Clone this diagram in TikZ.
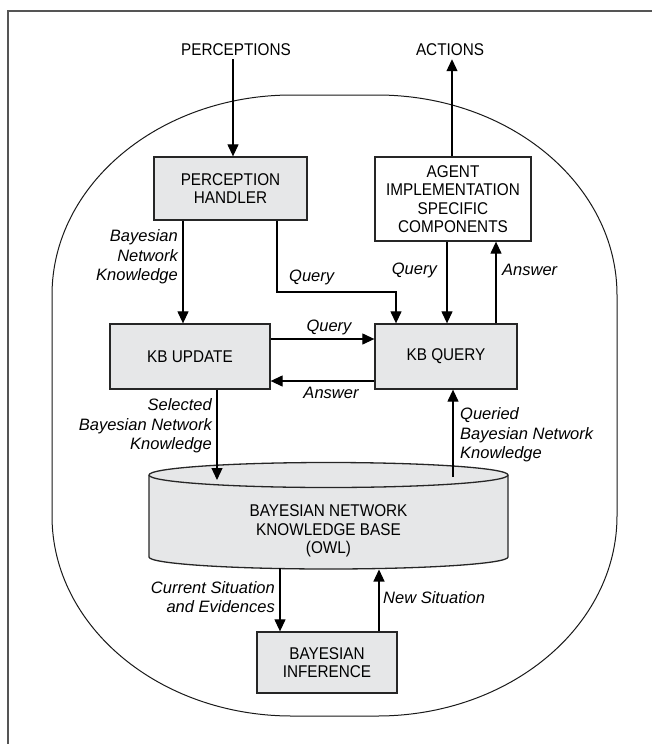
\documentclass[tikz,border=0pt]{standalone}
\usepackage{fontspec}
\setmainfont{Liberation Sans}
\newfontfamily\boxfont[FakeStretch=0.9]{Liberation Sans}
\usetikzlibrary{arrows.meta}
\definecolor{boxgray}{RGB}{230,231,232}
\definecolor{framegray}{RGB}{85,85,85}

\begin{document}
\begin{tikzpicture}[x=1pt,y=-1pt,
  box/.style={draw=black!85, line width=1.3pt, fill=boxgray, align=center,
    inner sep=0pt, font=\boxfont\fontsize{17}{18.5}\selectfont},
  title/.style={inner sep=3pt, align=center, font=\boxfont\fontsize{17}{18.5}\selectfont},
  lbl/.style={inner sep=0pt, font=\itshape\fontsize{16.5}{19.5}\selectfont},
  arr/.style={line width=1.2pt, -{Triangle[width=11pt,length=12pt]}},
  container/.style={line width=1pt, draw=black!90},
  cyl/.style={line width=1.3pt, draw=black!85}]

\useasboundingbox (0,0) rectangle (652,744);

% page frame (top and left rules)
\draw[framegray, line width=2pt] (652,11) -- (7.5,11) -- (7.5,744);

% agent boundary
\draw[container] (292,95) -- (377,95)
  arc[start angle=-90, end angle=0, x radius=240, y radius=200]
  -- (617,516)
  arc[start angle=0, end angle=90, x radius=240, y radius=200]
  -- (292,716)
  arc[start angle=90, end angle=180, x radius=240, y radius=200]
  -- (52,295)
  arc[start angle=180, end angle=270, x radius=240, y radius=200]
  -- cycle;

% knowledge base cylinder
\fill[boxgray] (149,475) -- (149,557)
  arc[start angle=180, end angle=0, x radius=179.5, y radius=12]
  -- (508,475)
  arc[start angle=0, end angle=-180, x radius=179.5, y radius=12.5] -- cycle;
\draw[cyl] (149,475) -- (149,557)
  arc[start angle=180, end angle=0, x radius=179.5, y radius=12]
  -- (508,475)
  arc[start angle=0, end angle=-180, x radius=179.5, y radius=12.5];
\draw[cyl] (149,475) arc[start angle=180, end angle=0, x radius=179.5, y radius=12.5];

% components
\node[title] (perc) at (236,50) {PERCEPTIONS};
\node[title] (act) at (450,50) {ACTIONS};
\node[box, minimum width=153pt, minimum height=63pt] (ph) at (230.5,188.5) {PERCEPTION\\HANDLER};
\node[box, fill=white, minimum width=156pt, minimum height=84pt] (agent) at (453,199)
  {AGENT\\IMPLEMENTATION\\SPECIFIC\\COMPONENTS};
\node[box, minimum width=160pt, minimum height=65pt] (kbu) at (190,356.5) {KB UPDATE};
\node[box, minimum width=142pt, minimum height=65pt] (kbq) at (446,356.5) {KB QUERY};
\node[title, inner sep=0pt] (kb) at (328.5,531) {BAYESIAN NETWORK\\KNOWLEDGE BASE\\(OWL)};
\node[box, minimum width=140pt, minimum height=61pt] (inf) at (327,662.5) {BAYESIAN\\INFERENCE};

% connector positions
\coordinate (xIn) at (233,0);
\coordinate (xOut) at (452,0);
\coordinate (xUpd) at (183,0);
\coordinate (qTurn) at (277,292);
\coordinate (xQa) at (396,0);
\coordinate (xQb) at (447,0);
\coordinate (xAns) at (496,0);
\coordinate (yQ) at (0,339);
\coordinate (yA) at (0,381);
\coordinate (selEnd) at (217,480);
\coordinate (qryStart) at (453,477);
\coordinate (curStart) at (280,568);
\coordinate (newEnd) at (379,569.5);

% connectors
\draw[arr] (perc.south -| xIn) -- (ph.north -| xIn);
\draw[arr] (agent.north -| xOut) -- (act.south -| xOut);
\draw[arr] (ph.south -| xUpd) -- (kbu.north -| xUpd);
\draw[arr] (ph.south -| qTurn) -- (qTurn) -| (kbq.north -| xQa);
\draw[arr] (agent.south -| xQb) -- (kbq.north -| xQb);
\draw[arr] (kbq.north -| xAns) -- (agent.south -| xAns);
\draw[arr] (kbu.east |- yQ) -- (kbq.west |- yQ);
\draw[arr] (kbq.west |- yA) -- (kbu.east |- yA);
\draw[arr] (kbu.south -| selEnd) -- (selEnd);
\draw[arr] (qryStart) -- (kbq.south -| qryStart);
\draw[arr] (curStart) -- (inf.north -| curStart);
\draw[arr] (inf.north -| newEnd) -- (newEnd);

% connector labels
\node[lbl, align=right, anchor=east] (lBnk) at (178,257) {Bayesian\\Network\\Knowledge};
\node[lbl, anchor=west] (lQ1) at (289,277) {Query};
\node[lbl, anchor=east] (lQ2) at (437,270) {Query};
\node[lbl, anchor=west] (lA1) at (502,270) {Answer};
\node[lbl] (lQ3) at (329,327) {Query};
\node[lbl] (lA2) at (331,393) {Answer};
\node[lbl, align=right, anchor=east] (lSel) at (212,426) {Selected\\Bayesian Network\\Knowledge};
\node[lbl, align=left, anchor=west] (lQry) at (460,435) {Queried\\Bayesian Network\\Knowledge};
\node[lbl, align=right, anchor=east] (lCur) at (275,597) {Current Situation\\and Evidences};
\node[lbl, anchor=west] (lNew) at (383,598) {New Situation};

\end{tikzpicture}
\end{document}
